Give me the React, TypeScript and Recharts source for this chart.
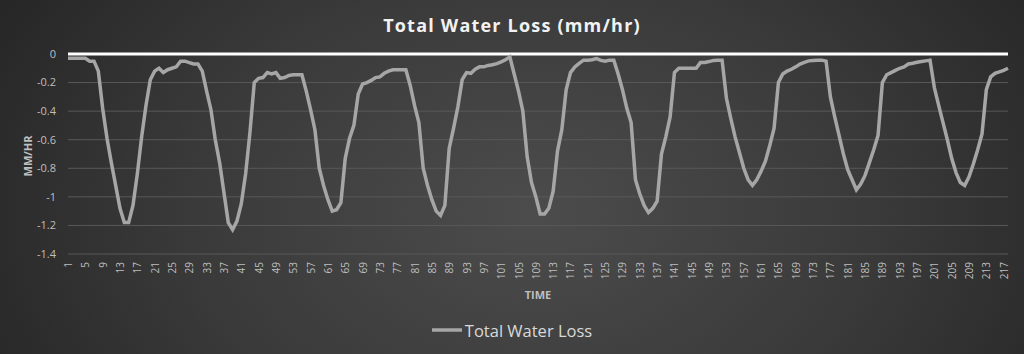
import React from 'react';
import { LineChart, Line, XAxis, YAxis, CartesianGrid, ReferenceLine } from 'recharts';

const TITLE = 'Total Water Loss (mm/hr)';
const SERIES_NAME = 'Total Water Loss';
const X_TITLE = 'TIME';
const Y_TITLE = 'MM/HR';

const yTicks = [0, -0.2, -0.4, -0.6, -0.8, -1, -1.2, -1.4];

const waterLoss = [
  -0.03, -0.03, -0.03, -0.03, -0.03, -0.05, -0.05, -0.12, -0.38, -0.59,
  -0.76, -0.92, -1.08, -1.18, -1.18, -1.06, -0.84, -0.58, -0.36, -0.18,
  -0.12, -0.10, -0.13, -0.11, -0.10, -0.09, -0.05, -0.05, -0.06, -0.07,
  -0.07, -0.12, -0.26, -0.39, -0.60, -0.76, -0.97, -1.18, -1.23, -1.17,
  -1.05, -0.84, -0.55, -0.20, -0.17, -0.165, -0.13, -0.14, -0.13, -0.17,
  -0.165, -0.15, -0.145, -0.145, -0.145, -0.26, -0.39, -0.53, -0.80, -0.92,
  -1.02, -1.10, -1.09, -1.04, -0.73, -0.59, -0.50, -0.28, -0.21, -0.20,
  -0.185, -0.165, -0.16, -0.135, -0.12, -0.11, -0.11, -0.11, -0.11, -0.22,
  -0.36, -0.48, -0.80, -0.92, -1.02, -1.10, -1.13, -1.06, -0.66, -0.52,
  -0.37, -0.18, -0.13, -0.135, -0.107, -0.09, -0.09, -0.08, -0.075, -0.067,
  -0.055, -0.04, -0.02, -0.14, -0.26, -0.40, -0.72, -0.90, -1.00, -1.12,
  -1.12, -1.08, -0.96, -0.68, -0.53, -0.25, -0.13, -0.09, -0.065, -0.043,
  -0.043, -0.04, -0.032, -0.045, -0.05, -0.043, -0.043, -0.14, -0.25, -0.38,
  -0.48, -0.88, -0.98, -1.06, -1.11, -1.08, -1.03, -0.70, -0.58, -0.44,
  -0.13, -0.10, -0.10, -0.10, -0.10, -0.10, -0.06, -0.06, -0.053, -0.045,
  -0.043, -0.043, -0.31, -0.45, -0.58, -0.69, -0.80, -0.88, -0.92, -0.88,
  -0.82, -0.75, -0.64, -0.52, -0.20, -0.14, -0.12, -0.107, -0.09, -0.07,
  -0.058, -0.048, -0.045, -0.043, -0.043, -0.05, -0.30, -0.44, -0.57, -0.70,
  -0.81, -0.88, -0.95, -0.91, -0.85, -0.76, -0.67, -0.57, -0.20, -0.145,
  -0.13, -0.115, -0.10, -0.09, -0.07, -0.065, -0.058, -0.053, -0.048, -0.043,
  -0.235, -0.36, -0.48, -0.60, -0.73, -0.83, -0.90, -0.92, -0.86, -0.77,
  -0.67, -0.56, -0.25, -0.16, -0.135, -0.125, -0.115, -0.10,
];

const timeLabels = waterLoss.map((_, i) => String(i + 1));

const data = timeLabels.map((t, i) => ({ time: t, loss: waterLoss[i] }));

const FONT = '"Open Sans", "Liberation Sans", sans-serif';

const XTick = (props: any) => {
  const { x, y, payload } = props;
  return (
    <text
      x={x}
      y={y}
      transform={`rotate(-90, ${x}, ${y})`}
      textAnchor="end"
      dominantBaseline="central"
      fontSize={10}
      fontFamily={FONT}
      fill="#bfbfbf"
    >
      {payload.value}
    </text>
  );
};

const fmtY = (v: number) => {
  const r = Math.round(v * 10) / 10;
  return r === 0 ? '0' : String(r);
};

export default function App() {
  return (
    <div
      style={{
        position: 'absolute',
        left: 0,
        top: 0,
        width: 1024,
        height: 354,
        background: 'radial-gradient(ellipse 60% 120% at 52% 60%, #4c4c4c 0%, #3a3a3a 55%, #262626 100%)',
        overflow: 'hidden',
      }}
    >
      <div
        style={{
          position: 'absolute',
          top: 13,
          left: 0,
          width: 1024,
          textAlign: 'center',
          color: '#f2f2f2',
          fontFamily: FONT,
          fontWeight: 700,
          fontSize: 18,
          letterSpacing: 1.2,
          lineHeight: '24px',
        }}
      >
        {TITLE}
      </div>
      <div
        style={{
          position: 'absolute',
          left: 27,
          top: 156,
          transform: 'translate(-50%, -50%) rotate(-90deg)',
          color: '#bfbfbf',
          fontFamily: FONT,
          fontWeight: 700,
          fontSize: 11,
          whiteSpace: 'nowrap',
        }}
      >
        {Y_TITLE}
      </div>
      <div
        style={{
          position: 'absolute',
          left: 538,
          top: 294,
          transform: 'translate(-50%, -50%)',
          color: '#bfbfbf',
          fontFamily: FONT,
          fontWeight: 700,
          fontSize: 11,
        }}
      >
        {X_TITLE}
      </div>
      <LineChart
        width={1024}
        height={354}
        data={data}
        margin={{ top: 54, right: 16, left: 0, bottom: 60 }}
        style={{ position: 'absolute', left: 0, top: 0 }}
      >
        <CartesianGrid horizontal={true} vertical={false} stroke="#595959" strokeWidth={1} />
        <XAxis
          dataKey="time"
          interval={3}
          tick={<XTick />}
          tickLine={false}
          axisLine={false}
          tickSize={6}
          tickMargin={2}
          height={40}
        />
        <YAxis
          domain={[-1.4, 0]}
          ticks={yTicks}
          tickFormatter={fmtY}
          width={68}
          axisLine={false}
          tickLine={false}
          tickMargin={6}
          tick={{ fill: '#bfbfbf', fontSize: 11, fontFamily: FONT }}
          allowDataOverflow={true}
        />
        <ReferenceLine y={0} stroke="#ffffff" strokeWidth={3} />
        <Line
          type="linear"
          dataKey="loss"
          name={SERIES_NAME}
          stroke="#a6a6a6"
          strokeWidth={3.5}
          dot={false}
          isAnimationActive={false}
        />
      </LineChart>
      <div
        style={{
          position: 'absolute',
          left: 0,
          top: 319,
          width: 1024,
          display: 'flex',
          justifyContent: 'center',
          alignItems: 'center',
          fontFamily: FONT,
          height: 22,
        }}
      >
        <svg width={30} height={6} style={{ marginRight: 3 }}>
          <line x1={0} y1={3} x2={30} y2={3} stroke="#a6a6a6" strokeWidth={3.5} />
        </svg>
        <span style={{ color: '#d9d9d9', fontSize: 16.5 }}>{SERIES_NAME}</span>
      </div>
    </div>
  );
}
